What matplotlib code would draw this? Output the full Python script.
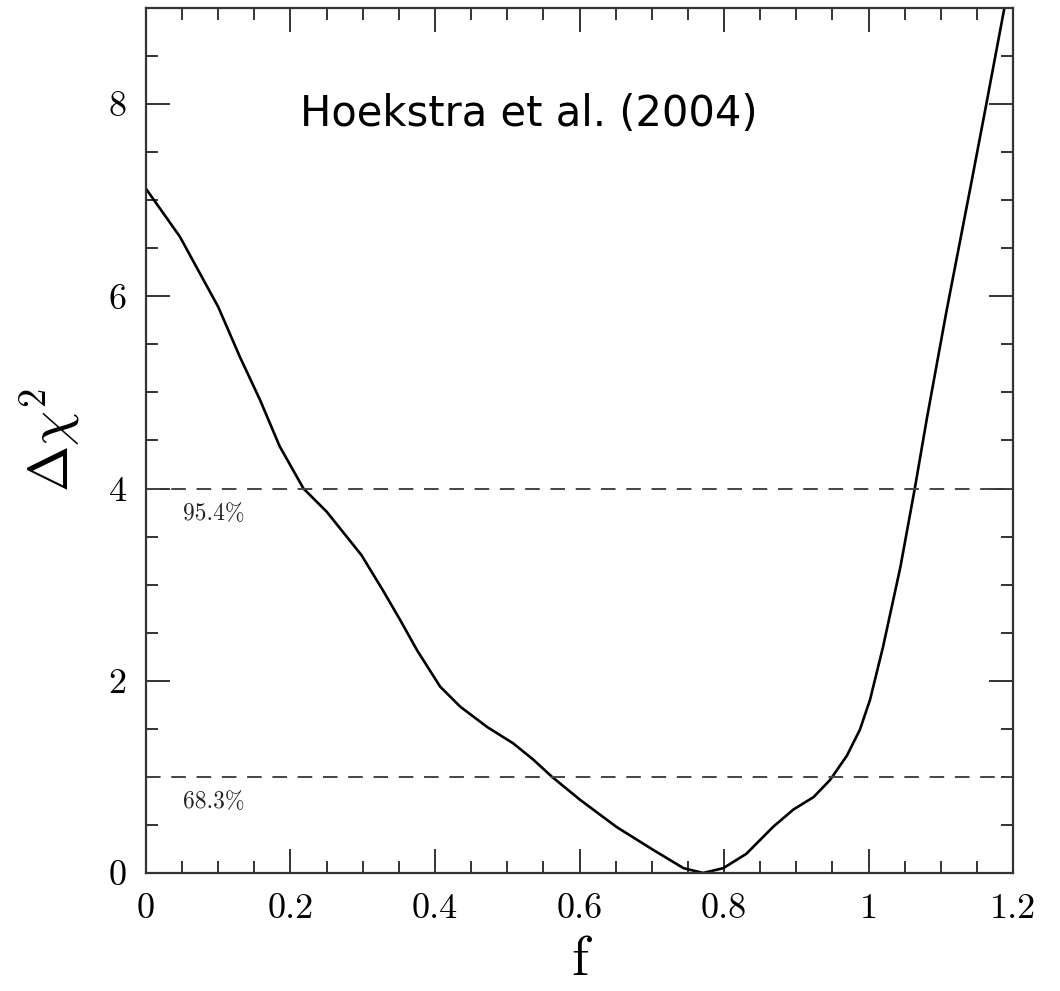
import numpy as np
import matplotlib
matplotlib.use('Agg')
import matplotlib.pyplot as plt
from matplotlib.ticker import MultipleLocator

# curve
f = [0.0, 0.047, 0.10, 0.13, 0.158, 0.185, 0.218, 0.25, 0.298, 0.328, 0.352,
     0.375, 0.407, 0.435, 0.472, 0.508, 0.536, 0.562, 0.601, 0.651, 0.702,
     0.744, 0.771, 0.799, 0.831, 0.868, 0.896, 0.924, 0.947, 0.970, 0.988,
     1.002, 1.020, 1.044, 1.064, 1.081, 1.108, 1.143, 1.163, 1.188]
dchi2 = [7.12, 6.62, 5.89, 5.37, 4.92, 4.44, 4.00, 3.76, 3.31, 2.94, 2.63,
         2.32, 1.94, 1.73, 1.52, 1.35, 1.18, 1.00, 0.76, 0.48, 0.24,
         0.05, 0.0, 0.05, 0.20, 0.48, 0.66, 0.79, 0.97, 1.22, 1.49,
         1.80, 2.35, 3.18, 4.00, 4.74, 5.85, 7.21, 8.0, 9.0]

# confidence levels
levels = [4.0, 1.0]
level_names = ['95.4%', '68.3%']

xticks = [0, 0.2, 0.4, 0.6, 0.8, 1.0, 1.2]
xticklabels = ['0', '0.2', '0.4', '0.6', '0.8', '1', '1.2']
yticks = [0, 2, 4, 6, 8]
yticklabels = ['0', '2', '4', '6', '8']

plt.rcParams['mathtext.fontset'] = 'cm'

fig = plt.figure(figsize=(10.6, 9.91), dpi=100)
ax = fig.add_axes([0.1377, 0.1191, 0.818, 0.8728])

ax.plot(f, dchi2, color='black', lw=1.9)

for lev, name in zip(levels, level_names):
    ax.axhline(lev, color='#444444', lw=1.4, dashes=(7.5, 5.5))
    ax.text(0.051, lev - 0.33, name, fontsize=17, family='cmr10', color='#222222')

ax.text(0.213, 7.77, 'Hoekstra et al. (2004)', fontsize=30,
        family='DejaVu Sans', color='black')

ax.set_xlim(0, 1.2)
ax.set_ylim(0, 9)
ax.set_xticks(xticks)
ax.set_xticklabels(xticklabels, family='cmr10', fontsize=26)
ax.set_yticks(yticks)
ax.set_yticklabels(yticklabels, family='cmr10', fontsize=26)
ax.xaxis.set_minor_locator(MultipleLocator(0.05))
ax.yaxis.set_minor_locator(MultipleLocator(0.5))
ax.tick_params(which='both', direction='in', top=True, right=True,
               color='#333333', width=1.4)
ax.tick_params(which='major', length=17)
ax.tick_params(which='minor', length=8.5)
ax.tick_params(axis='x', which='major', pad=15)
ax.tick_params(axis='y', which='major', pad=14)

for s in ax.spines.values():
    s.set_linewidth(1.6)
    s.set_color('#333333')

ax.set_xlabel('f', family='cmr10', fontsize=40, labelpad=8)
ax.set_ylabel(r'$\Delta\chi^2$', fontsize=40, labelpad=18)

fig.savefig('out.png', dpi=100)
